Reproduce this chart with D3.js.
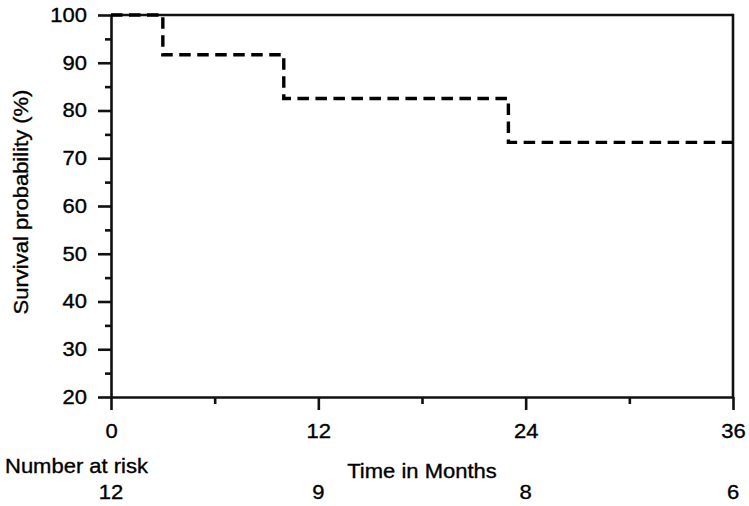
<!DOCTYPE html>
<html>
<head>
<meta charset="utf-8">
<script src="https://cdn.jsdelivr.net/npm/d3@7"></script>
<style>
  html, body { margin: 0; padding: 0; background: #fff; }
  svg { display: block; }
  text { font-family: "Liberation Sans", Arial, sans-serif; fill: #000; stroke: #000; stroke-width: 0.35px; }
</style>
</head>
<body>
<svg id="chart" width="749" height="506"></svg>
<script>
// ---- Data ----
const stepTimes = [0, 3, 10, 23, 36];              // months
const survival = [100, 91.67, 82.5, 73.33, 73.33]; // %
const xTicks = [0, 12, 24, 36];
const xMinorTicks = [6, 18, 30];
const yTicks = [20, 30, 40, 50, 60, 70, 80, 90, 100];
const yMinorTicks = [25, 35, 45, 55, 65, 75, 85, 95];
const riskTimes = [0, 12, 24, 36];
const numberAtRisk = [12, 9, 8, 6];

// ---- Layout ----
const M = { left: 111, right: 733, top: 15, bottom: 397 };
const FS = 20;
const SX = 1.1; // horizontal glyph stretch
const LW = 2.6;

const svg = d3.select("#chart");
const x = d3.scaleLinear().domain([0, 36]).range([M.left, M.right]);
const y = d3.scaleLinear().domain([20, 100]).range([M.bottom, M.top]);

// Y axis major
const gy = svg.append("g").attr("transform", `translate(${M.left},0)`)
  .call(d3.axisLeft(y).tickValues(yTicks).tickSize(13).tickSizeOuter(0).tickPadding(11));
gy.selectAll(".tick text").attr("x", -24 / SX).attr("transform", `scale(${SX},1)`);
// Y minor
svg.append("g").attr("transform", `translate(${M.left},0)`)
  .call(d3.axisLeft(y).tickValues(yMinorTicks).tickSize(6).tickFormat("").tickSizeOuter(0))
  .select(".domain").remove();

// X axis major
const gx = svg.append("g").attr("transform", `translate(0,${M.bottom})`)
  .call(d3.axisBottom(x).tickValues(xTicks).tickSize(13).tickSizeOuter(0).tickPadding(14));
gx.selectAll(".tick text").attr("transform", `scale(${SX},1)`);
// X minor
svg.append("g").attr("transform", `translate(0,${M.bottom})`)
  .call(d3.axisBottom(x).tickValues(xMinorTicks).tickSize(7).tickFormat("").tickSizeOuter(0))
  .select(".domain").remove();

svg.selectAll(".tick text").attr("font-size", FS).attr("font-family", null);
svg.selectAll(".domain, .tick line").attr("stroke", "#111").attr("stroke-width", LW);

// Top and right frame
svg.append("line").attr("x1", x(0)).attr("x2", x(36)).attr("y1", y(100)).attr("y2", y(100))
  .attr("stroke", "#111").attr("stroke-width", LW);
svg.append("line").attr("x1", x(36)).attr("x2", x(36)).attr("y1", y(100) - LW / 2).attr("y2", y(20))
  .attr("stroke", "#111").attr("stroke-width", LW);

// KM curve
const pts = stepTimes.map((t, i) => [t, survival[i]]);
const line = d3.line().x(d => x(d[0])).y(d => y(d[1])).curve(d3.curveStepAfter);
svg.append("path").attr("d", line(pts))
  .attr("fill", "none").attr("stroke", "#000").attr("stroke-width", 3.4)
  .attr("stroke-dasharray", "11.5,6.5");

// helper for stretched text
function label(xp, yp, txt, anchor, rot) {
  return svg.append("text")
    .attr("transform", `translate(${xp},${yp})${rot ? ` rotate(${rot})` : ""} scale(${SX},1)`)
    .attr("text-anchor", anchor).attr("font-size", FS).text(txt);
}

// Axis titles
label(28, 202, "Survival probability (%)", "middle", -90);
label((M.left + M.right) / 2, 478, "Time in Months", "middle");
label(5, 473, "Number at risk", "start");

riskTimes.forEach((t, i) => label(x(t), 499, numberAtRisk[i], "middle"));
</script>
</body>
</html>
